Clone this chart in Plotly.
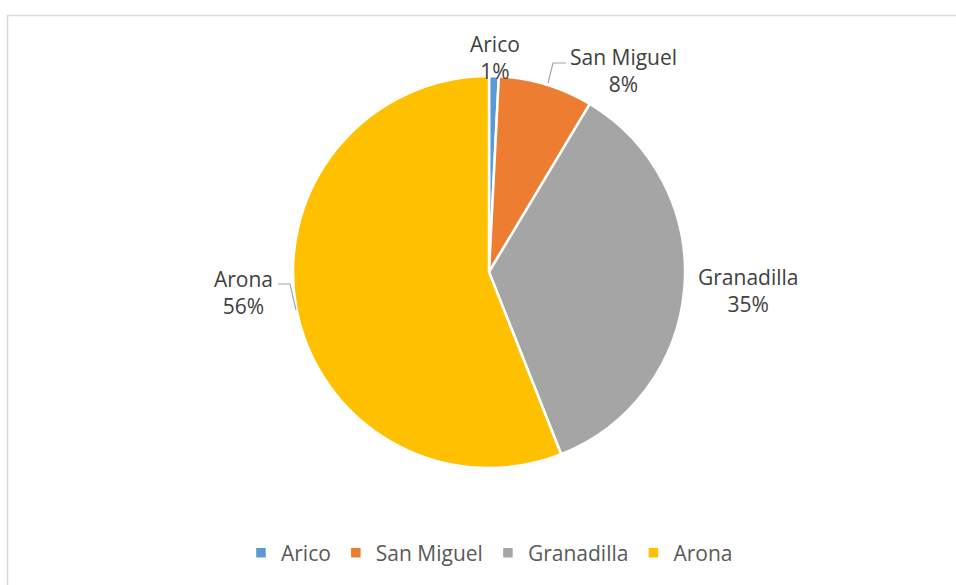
import plotly.graph_objects as go

# ---- data ----
categories = ["Arico", "San Miguel", "Granadilla", "Arona"]
values = [0.8, 7.8, 35.4, 56.0]
colors = ["#5B9BD5", "#ED7D31", "#A5A5A5", "#FFC000"]

W, H = 956, 585

def px(x):
    return x / W

def py(y):
    return 1 - y / H

# pie geometry (pixels)
cx, cy, r = 489, 272, 196

fig = go.Figure()
fig.add_trace(go.Pie(
    labels=categories,
    values=values,
    sort=False,
    direction="clockwise",
    rotation=0,
    marker=dict(colors=colors, line=dict(color="white", width=2.5)),
    textinfo="none",
    hoverinfo="label+percent",
    domain=dict(x=[px(cx - r), px(cx + r)], y=[py(cy + r), py(cy - r)]),
    showlegend=True,
))

# data labels (positions in pixels, text from data)
total = sum(values)
label_pos = [(495, 58), (623, 70), (748, 290), (243, 292)]
annotations = []
for cat, v, (lx, ly) in zip(categories, values, label_pos):
    annotations.append(dict(
        x=px(lx), y=py(ly), xref="paper", yref="paper",
        text=f"{cat}<br>{round(100 * v / total):.0f}%",
        showarrow=False, xanchor="center", yanchor="middle",
        font=dict(family="Open Sans", size=21, color="#404040"),
        align="center",
    ))

shapes = [
    # chart border
    dict(type="rect", xref="paper", yref="paper",
         x0=px(7.5), y0=py(600), x1=px(980), y1=py(15.5),
         line=dict(color="#D9D9D9", width=1.5), fillcolor="rgba(0,0,0,0)", layer="below"),
    # leader lines
    dict(type="path", xref="paper", yref="paper",
         path=f"M {px(548)} {py(83)} L {px(553)} {py(63)} L {px(566)} {py(63)}",
         line=dict(color="#A6A6A6", width=1.2)),
    dict(type="path", xref="paper", yref="paper",
         path=f"M {px(296)} {py(310)} L {px(290)} {py(284)} L {px(278)} {py(284)}",
         line=dict(color="#A6A6A6", width=1.2)),
]

fig.update_layout(
    width=W, height=H,
    margin=dict(l=0, r=0, t=0, b=0),
    paper_bgcolor="white",
    plot_bgcolor="white",
    annotations=annotations,
    shapes=shapes,
    legend=dict(
        orientation="h", x=0.512, xanchor="center", y=py(553), yanchor="middle",
        font=dict(family="Open Sans", size=21, color="#595959"),
        itemwidth=30, tracegroupgap=0,
    ),
)

fig.write_html("out.html", config={"displayModeBar": False},
               post_script="document.body.style.margin='0';")
